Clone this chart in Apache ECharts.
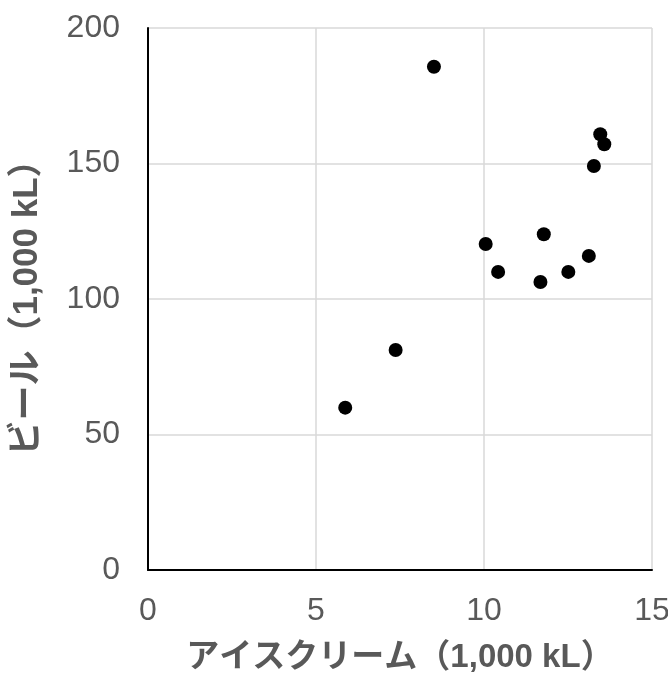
<!DOCTYPE html>
<html>
<head>
<meta charset="utf-8">
<script src="https://cdn.jsdelivr.net/npm/echarts@6/dist/echarts.min.js"></script>
<style>html,body{margin:0;padding:0;background:#fff;}#c{width:668px;height:675px;}</style>
</head>
<body>
<div id="c"></div>
<script>
const iceCream = [5.87, 7.37, 8.51, 10.05, 10.42, 11.68, 11.78, 12.51, 13.12, 13.27, 13.46, 13.58];
const beer     = [59.9, 81.2, 185.7, 120.3, 110.0, 106.3, 123.9, 110.0, 115.9, 149.1, 160.8, 157.1];
const xTitle = 'アイスクリーム（1,000 kL）';
const yTitle = 'ビール（1,000 kL）';

const FONT = '"Liberation Sans", Arial, "Noto Sans CJK JP", sans-serif';
const chart = echarts.init(document.getElementById('c'));
chart.setOption({
  animation: false,
  grid: {left: 148, right: 16, top: 28, bottom: 105, containLabel: false, outerBoundsMode: 'none'},
  xAxis: {
    type: 'value', min: 0, max: 15, interval: 5,
    name: xTitle, nameLocation: 'middle', nameGap: 71,
    nameTextStyle: {color: '#595959', fontSize: 33, fontWeight: 'bold', fontFamily: FONT},
    axisLine: {show: true, onZero: false, lineStyle: {color: '#000', width: 2}},
    axisTick: {show: false},
    axisLabel: {color: '#595959', fontSize: 32, margin: 25, fontFamily: FONT},
    splitLine: {show: true, lineStyle: {color: '#d9d9d9', width: 1.5}}
  },
  yAxis: {
    type: 'value', min: 0, max: 200, interval: 50,
    name: yTitle, nameLocation: 'middle', nameGap: 103,
    nameTextStyle: {color: '#595959', fontSize: 35, fontWeight: 'bold', fontFamily: FONT},
    axisLine: {show: true, onZero: false, lineStyle: {color: '#000', width: 2}},
    axisTick: {show: false},
    axisLabel: {color: '#595959', fontSize: 32, margin: 28, fontFamily: FONT},
    splitLine: {show: true, lineStyle: {color: '#d9d9d9', width: 1.5}}
  },
  series: [{
    type: 'scatter',
    data: iceCream.map((x, i) => [x, beer[i]]),
    symbol: 'circle', symbolSize: 14,
    itemStyle: {color: '#000', opacity: 1}
  }]
});
</script>
</body>
</html>
